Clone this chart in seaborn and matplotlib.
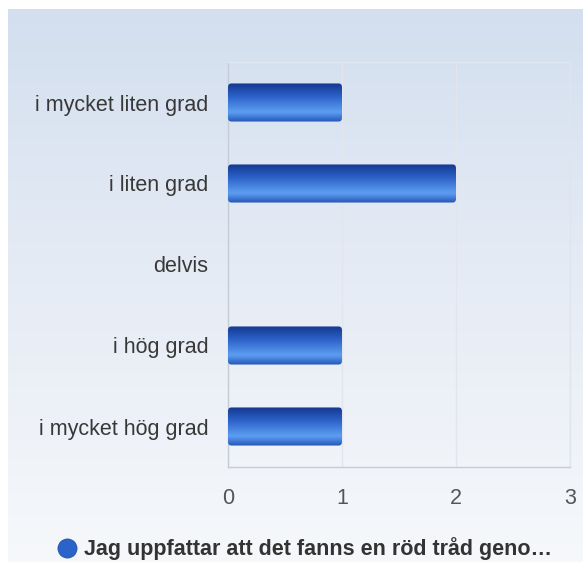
import numpy as np
import pandas as pd
import matplotlib
matplotlib.use("Agg")
import matplotlib.pyplot as plt
import seaborn as sns
from matplotlib.colors import LinearSegmentedColormap
from matplotlib.patches import FancyBboxPatch

categories = ["i mycket liten grad", "i liten grad", "delvis", "i hög grad", "i mycket hög grad"]
values = [1, 2, 0, 1, 1]
series_name = "Jag uppfattar att det fanns en röd tråd geno…"
xticks = [0, 1, 2, 3]

sns.set_theme(style="white")
plt.rcParams['font.family'] = ['Liberation Sans', 'DejaVu Sans']

W, H = 583, 562
fig = plt.figure(figsize=(W / 100, H / 100), dpi=100)
fig.patch.set_facecolor("white")

# background gradient panel
bg = fig.add_axes([8 / W, 0, 1 - 8 / W, 1 - 9 / H], zorder=-5)
grad = np.linspace(0, 1, 256).reshape(-1, 1)
bg_cmap = LinearSegmentedColormap.from_list("bg", ["#d3dfef", "#e6ecf5", "#f6f8fb"])
bg.imshow(grad, aspect="auto", cmap=bg_cmap, extent=[0, 1, 0, 1], origin="upper")
bg.axis("off")

left, right, top, bottom = 228, 570, 62, 467
ax = fig.add_axes([left / W, 1 - bottom / H, (right - left) / W, (bottom - top) / H])
ax.set_facecolor("none")

df = pd.DataFrame({"cat": categories, "val": values})
sns.barplot(data=df, x="val", y="cat", orient="h", color="#2a64c8", width=0.47, ax=ax, zorder=3)

ax.set_xlim(0, 3)
ax.set_xticks(xticks)
ax.set_xticklabels([str(t) for t in xticks], fontsize=15.5, color="#555555")
ax.tick_params(axis="x", pad=15, length=0)
ax.tick_params(axis="y", pad=14, length=0, labelsize=15.5, labelcolor="#383838")
ax.set_xlabel("")
ax.set_ylabel("")
ax.grid(axis="x", color="#e2e6ec", linewidth=1, zorder=0)
ax.set_axisbelow(True)
for s in ["top", "right"]:
    ax.spines[s].set_color("#dfe5ee")
    ax.spines[s].set_linewidth(1)
for s in ["left", "bottom"]:
    ax.spines[s].set_color("#c5ccd6")
    ax.spines[s].set_linewidth(1)

# gradient fill on bars
bar_cmap = LinearSegmentedColormap.from_list(
    "bar", [(0, "#13378f"), (0.35, "#2d63c9"), (0.75, "#5d9ef1"), (1, "#2455b8")])
bgrad = np.linspace(0, 1, 128).reshape(-1, 1)
for p in list(ax.patches):
    w = p.get_width()
    x0, y0, h = p.get_x(), p.get_y(), p.get_height()
    p.set_visible(False)
    if w <= 0:
        continue
    clip = FancyBboxPatch((x0, y0), w, h, boxstyle="round,pad=0,rounding_size=0.03",
                          transform=ax.transData, facecolor="none", edgecolor="none",
                          mutation_aspect=h / 0.03 * 0.1)
    ax.add_patch(clip)
    im = ax.imshow(bgrad, aspect="auto", cmap=bar_cmap, extent=[x0, x0 + w, y0 + h, y0],
                   origin="upper", zorder=4)
    im.set_clip_path(clip)
ax.set_xlim(0, 3)
ax.set_ylim(len(categories) - 0.5, -0.5)
ax.set_aspect("auto")

# legend
leg_ax = fig.add_axes([0, 0, 1, 1], zorder=5)
leg_ax.axis("off")
leg_ax.set_xlim(0, W)
leg_ax.set_ylim(H, 0)
leg_ax.scatter([67], [548], s=190, color="#2a64c8", edgecolor="#1a4aa8", linewidth=0.5)
leg_ax.text(84, 549, series_name, fontsize=15.5, fontweight="bold", color="#333333",
            va="center", ha="left")

fig.savefig("out.png", dpi=100)
